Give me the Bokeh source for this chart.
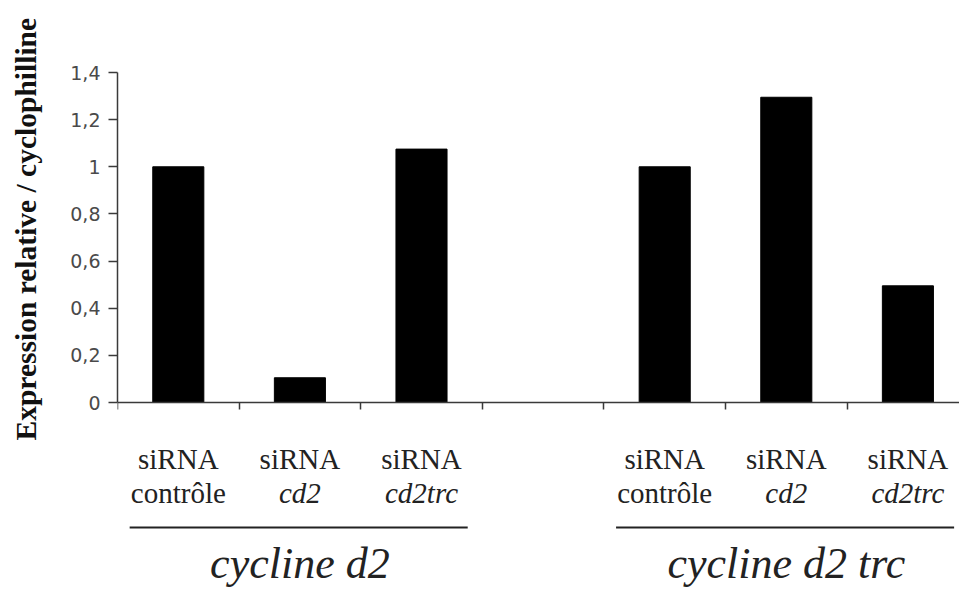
from bokeh.plotting import figure
from bokeh.layouts import row
from bokeh.models import Range1d, FixedTicker, LinearAxis, ColumnDataSource
from bokeh.embed import file_html
from bokeh.resources import INLINE
from bokeh.core.properties import value, field
import math

# ---------------- data ----------------
slots = ["siRNA contrôle", "siRNA cd2", "siRNA cd2trc", "", "siRNA contrôle", "siRNA cd2", "siRNA cd2trc"]
bar_slots = [0, 1, 2, 4, 5, 6]
values = [1.0, 0.105, 1.075, 1.0, 1.295, 0.495]
label_line1 = ["siRNA", "siRNA", "siRNA", "siRNA", "siRNA", "siRNA"]
label_line2 = ["contrôle", "cd2", "cd2trc", "contrôle", "cd2", "cd2trc"]
label_line2_style = ["normal", "italic", "italic", "normal", "italic", "italic"]
groups = ["cycline d2", "cycline d2 trc"]
group_first_slot = [0, 4]
group_last_slot = [2, 6]
y_ticks = [0, 0.2, 0.4, 0.6, 0.8, 1.0, 1.2, 1.4]
y_tick_labels = ["0", "0,2", "0,4", "0,6", "0,8", "1", "1,2", "1,4"]
y_label = "Expression relative  / cyclophilline"

# ---------------- layout (pixels) ----------------
W, H = 959, 591
TITLE_W = 44             # narrow strip holding the y title
FRAME_LEFT = 117         # frame left edge, measured on the page
Y_TOP_PX = 72            # page y of value 1.4
Y_ZERO_PX = 402          # page y of value 0
Y_LABEL_CENTER_PX = 225  # page y of the y-title centre
Y_LABEL_X_PX = 25        # page x of the y-title centre
y_max = y_ticks[-1]
scale = (Y_ZERO_PX - Y_TOP_PX) / y_max       # px per unit
cat_px = 121.6
MAIN_W = W - TITLE_W
x_end = (W - FRAME_LEFT) / cat_px
y_range_lo = -(H - Y_ZERO_PX) / scale
y_range_hi = y_max + Y_TOP_PX / scale

def px_below_zero(px):
    return -px / scale

# ---- title strip ----
t = figure(width=TITLE_W, height=H, output_backend="svg", toolbar_location=None,
           x_range=Range1d(0, TITLE_W), y_range=Range1d(y_range_lo, y_range_hi),
           x_axis_location=None, y_axis_location=None,
           min_border_left=0, min_border_right=0, min_border_top=0, min_border_bottom=0)
t.outline_line_color = None
t.xgrid.visible = False
t.ygrid.visible = False
t.text(x=[Y_LABEL_X_PX], y=[(Y_ZERO_PX - Y_LABEL_CENTER_PX) / scale], text=[y_label],
       angle=math.pi / 2, text_font=value("Liberation Serif"), text_font_style="bold",
       text_font_size="29.5px", text_align="center", text_baseline="middle",
       text_color="#111111")

# ---- main chart ----
p = figure(width=MAIN_W, height=H, output_backend="svg", toolbar_location=None,
           x_range=Range1d(0, x_end), y_range=Range1d(y_range_lo, y_range_hi),
           x_axis_location=None, y_axis_location=None,
           min_border_left=FRAME_LEFT - TITLE_W, min_border_right=0,
           min_border_top=0, min_border_bottom=0)
p.outline_line_color = None
p.xgrid.visible = False
p.ygrid.visible = False
p.background_fill_color = "white"

AX_COLOR = "#3a3a3a"

yaxis = LinearAxis(ticker=FixedTicker(ticks=y_ticks), bounds=(0, y_max),
                   major_label_overrides=dict(zip(y_ticks, y_tick_labels)),
                   axis_line_color=AX_COLOR, axis_line_width=1.5,
                   major_tick_line_color=AX_COLOR, major_tick_line_width=1.5,
                   major_tick_in=0, major_tick_out=9,
                   minor_tick_line_color=None,
                   major_label_standoff=8,
                   major_label_text_font="DejaVu Sans",
                   major_label_text_font_size="19px",
                   major_label_text_color="#4a4a4a")
p.add_layout(yaxis, "left")

x_ticks = list(range(len(slots) + 1))
xaxis = LinearAxis(ticker=FixedTicker(ticks=x_ticks), fixed_location=0,
                   major_label_overrides={tk: "" for tk in x_ticks},
                   axis_line_color=AX_COLOR, axis_line_width=1.5,
                   major_tick_line_color=AX_COLOR, major_tick_line_width=1.5,
                   major_tick_in=0, major_tick_out=7,
                   minor_tick_line_color=None)
p.add_layout(xaxis, "below")

# bars
bar_x = [s + 0.5 for s in bar_slots]
p.vbar(x=bar_x, top=values, bottom=0, width=0.42, fill_color="black", line_color="black")

# category labels
src1 = ColumnDataSource(dict(x=bar_x, y=[px_below_zero(56)] * len(bar_x), text=label_line1))
p.text(x="x", y="y", text="text", source=src1, text_font=value("Liberation Serif"),
       text_font_size="29px", text_align="center", text_baseline="middle", text_color="#222222")
src2 = ColumnDataSource(dict(x=bar_x, y=[px_below_zero(90)] * len(bar_x), text=label_line2,
                             style=label_line2_style))
p.text(x="x", y="y", text="text", source=src2, text_font=value("Liberation Serif"),
       text_font_style=field("style"),
       text_font_size="29px", text_align="center", text_baseline="middle", text_color="#222222")

# group brackets and names
g_x0 = [a + 0.1 for a in group_first_slot]
g_x1 = [b + 1 - 0.12 for b in group_last_slot]
g_y = [px_below_zero(125)] * len(groups)
p.segment(x0=g_x0, x1=g_x1, y0=g_y, y1=g_y, line_color="#222222", line_width=2)
g_cx = [(a + b + 1) / 2 for a, b in zip(group_first_slot, group_last_slot)]
p.text(x=g_cx, y=[px_below_zero(161)] * len(groups), text=groups,
       text_font=value("Liberation Serif"), text_font_style="italic",
       text_font_size="44px", text_align="center", text_baseline="middle", text_color="#222222")

layout = row(t, p, spacing=0)
open("out.html", "w").write(file_html(layout, INLINE))
